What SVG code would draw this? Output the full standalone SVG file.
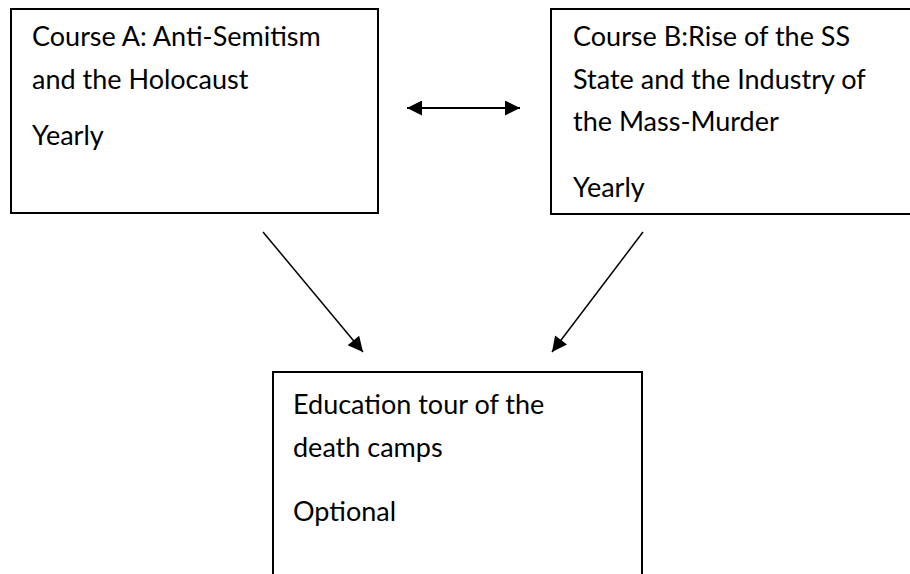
<svg xmlns="http://www.w3.org/2000/svg" width="910" height="574" viewBox="0 0 910 574">
<style>
.box{fill:#fff;stroke:#000;stroke-width:2}
.t{font-family:Lato,"Open Sans","Liberation Sans",sans-serif;font-size:27px;fill:#000}
.c{stroke:#000;stroke-width:1.5;fill:none}
.d{stroke:#000;stroke-width:2.2;fill:none}
</style>
<defs>
<marker id="ah" viewBox="0 0 10 10" refX="10" refY="5" markerUnits="userSpaceOnUse" markerWidth="17" markerHeight="15" orient="auto-start-reverse">
<path d="M0,0 L10,5 L0,10 Z" fill="#000"/>
</marker>
</defs>
<rect width="910" height="574" fill="#fff"/>
<g id="nodeA">
<rect class="box" x="11" y="9" width="367" height="204"/>
<text class="t" x="32" y="46">Course A: Anti-Semitism</text>
<text class="t" x="32" y="89">and the Holocaust</text>
<text class="t" x="32" y="145">Yearly</text>
</g>
<g id="nodeB">
<rect class="box" x="551" y="9" width="370" height="205"/>
<text class="t" x="573" y="46">Course B:Rise of the SS</text>
<text class="t" x="573" y="89">State and the Industry of</text>
<text class="t" x="573" y="131">the Mass-Murder</text>
<text class="t" x="573" y="197">Yearly</text>
</g>
<g id="nodeC">
<rect class="box" x="273" y="372" width="369" height="220"/>
<text class="t" x="293" y="414">Education tour of the</text>
<text class="t" x="293" y="457">death camps</text>
<text class="t" x="293" y="521">Optional</text>
</g>
<g id="connectors">
<line class="d" x1="407" y1="108" x2="520" y2="108" marker-start="url(#ah)" marker-end="url(#ah)"/>
<line class="c" x1="263" y1="232" x2="363" y2="352" marker-end="url(#ah)"/>
<line class="c" x1="643" y1="232" x2="552" y2="352" marker-end="url(#ah)"/>
</g>
</svg>
